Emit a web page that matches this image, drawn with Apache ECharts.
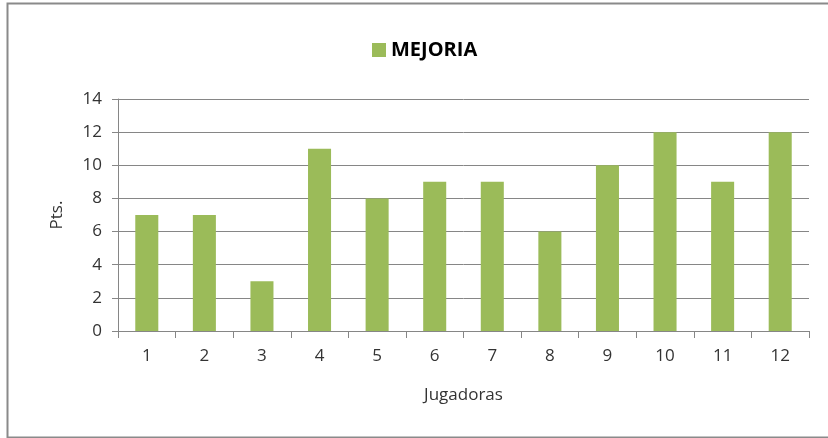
<!DOCTYPE html>
<html>
<head>
<meta charset="utf-8">
<script src="https://cdn.jsdelivr.net/npm/echarts@6/dist/echarts.min.js"></script>
<style>
  html, body { margin: 0; padding: 0; background: #fff; }
  #chart { width: 828px; height: 438px; }
</style>
</head>
<body>
<div id="chart"></div>
<script>
// data
var jugadoras = ['1', '2', '3', '4', '5', '6', '7', '8', '9', '10', '11', '12'];
var mejoria = [7, 7, 3, 11, 8, 9, 9, 6, 10, 12, 9, 12];
var seriesName = 'MEJORIA';

var chart = echarts.init(document.getElementById('chart'));
var txt = '#333';
var font = 'Open Sans';

chart.setOption({
  animation: false,
  color: ['#9BBB59'],
  graphic: [
    { type: 'rect', shape: { x: 7.5, y: 3.5, width: 830, height: 434 },
      style: { fill: 'none', stroke: '#8a8a8a', lineWidth: 2 } }
  ],
  legend: {
    data: [seriesName],
    left: 367, top: 35,
    itemWidth: 14, itemHeight: 14, itemGap: 6,
    icon: 'rect',
    textStyle: { fontSize: 20, fontWeight: 'bold', color: '#000', fontFamily: font }
  },
  grid: { left: 118, right: 19, top: 99, bottom: 107 },
  xAxis: {
    type: 'category',
    data: jugadoras,
    name: 'Jugadoras',
    nameLocation: 'middle',
    nameGap: 56,
    nameTextStyle: { fontSize: 17, color: txt, fontFamily: font },
    axisLine: { lineStyle: { color: '#868686' } },
    axisTick: { show: true, length: 7, alignWithLabel: false, lineStyle: { color: '#868686' } },
    axisLabel: { fontSize: 17, color: txt, margin: 17, fontFamily: font }
  },
  yAxis: {
    type: 'value',
    min: 0, max: 14, interval: 2,
    name: 'Pts.',
    nameLocation: 'middle',
    nameGap: 52,
    nameTextStyle: { fontSize: 17, color: txt, fontFamily: font },
    axisLine: { show: true, lineStyle: { color: '#868686' } },
    axisTick: { show: true, length: 6, lineStyle: { color: '#868686' } },
    axisLabel: { fontSize: 17, color: txt, margin: 16, fontFamily: font },
    splitLine: { lineStyle: { color: '#868686' } }
  },
  series: [{
    name: seriesName,
    type: 'bar',
    data: mejoria,
    barCategoryGap: '60%'
  }]
});
</script>
</body>
</html>
